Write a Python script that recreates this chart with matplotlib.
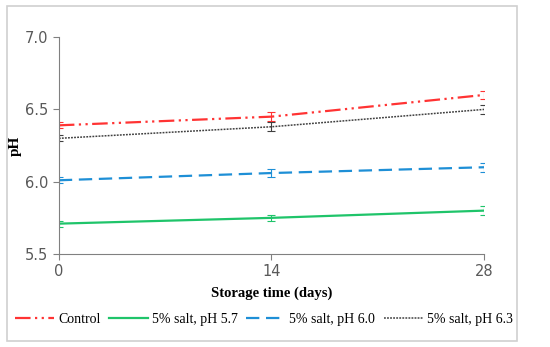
import numpy as np
import matplotlib
matplotlib.use('Agg')
import matplotlib.pyplot as plt
from matplotlib.patches import Rectangle

days = [0, 14, 28]
labels = ['Control', '5% salt, pH 5.7', '5% salt, pH 6.0', '5% salt, pH 6.3']
control = [6.39, 6.45, 6.60]
salt57 = [5.71, 5.75, 5.80]
salt60 = [6.01, 6.06, 6.10]
salt63 = [6.30, 6.38, 6.50]
err_control = [0.02, 0.03, 0.03]
err_57 = [0.02, 0.02, 0.03]
err_60 = [0.02, 0.03, 0.03]
err_63 = [0.02, 0.03, 0.03]

series = [control, salt57, salt60, salt63]
errs = [err_control, err_57, err_60, err_63]
colors = ['#ff3333', '#1fc46a', '#1e8fd6', '#404040']
styles = [(0, (7, 2, 1, 2, 1, 2)), '-', (0, (6, 3)), (0, (1.2, 0.8))]
widths = [1.6, 1.6, 1.6, 1.1]

fig = plt.figure(figsize=(5.5, 3.47), dpi=100)
ax = fig.add_axes([0.107, 0.268, 0.773, 0.625])

for y, e, c, ls, lw, lab in zip(series, errs, colors, styles, widths, labels):
    ax.plot(days, y, color=c, linestyle=ls, linewidth=lw, label=lab)
    ax.errorbar(days, y, yerr=e, fmt='none', ecolor=c, elinewidth=0.8, capsize=3, capthick=0.8)

ax.set_xlim(0, 28)
ax.set_ylim(5.5, 7.0)
ax.set_xticks(days)
ax.set_yticks([5.5, 6.0, 6.5, 7.0])
ax.set_yticklabels(['5.5', '6.0', '6.5', '7.0'])
for s in ['top', 'right']:
    ax.spines[s].set_visible(False)
for s in ['left', 'bottom']:
    ax.spines[s].set_color('#808080')
ax.tick_params(colors='#808080', labelcolor='#595959', labelsize=10.5, length=4)
ax.set_xlabel('Storage time (days)', family='Liberation Serif', fontweight='bold', fontsize=10.5, labelpad=5)
ax.set_ylabel('pH', family='Liberation Serif', fontweight='bold', fontsize=11, labelpad=2)

fig.legend(loc='lower center', bbox_to_anchor=(0.48, 0.045), ncol=4, frameon=False,
           prop={'family': 'Liberation Serif', 'size': 10}, handlelength=2.8,
           handletextpad=0.3, columnspacing=0.6, borderaxespad=0)

fig.patches.append(Rectangle((7 / 550, 6 / 347), 510 / 550, 335 / 347, transform=fig.transFigure,
                             fill=False, edgecolor='#d0d0d0', linewidth=1.2))

fig.savefig('out.png', dpi=100)
